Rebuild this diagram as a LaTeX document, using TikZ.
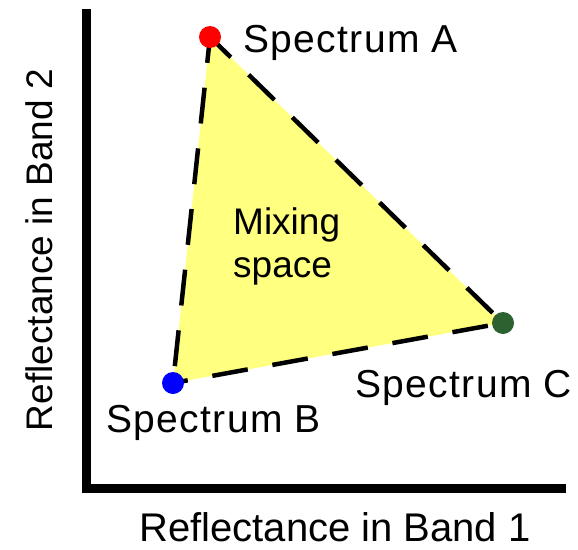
\documentclass[tikz,border=0pt]{standalone}
\usepackage{fontspec}
\setmainfont{Liberation Sans}
\newfontfamily\spacedfont[LetterSpace=3.5]{Liberation Sans}
\definecolor{fillyellow}{RGB}{255,255,128}
\definecolor{dotred}{RGB}{255,0,0}
\definecolor{dotblue}{RGB}{0,0,255}
\definecolor{dotgreen}{RGB}{45,98,48}
\begin{document}
\begin{tikzpicture}[x=1pt,y=-1pt,
  axisline/.style={line width=9pt, line join=miter, black},
  edgeline/.style={line width=4.5pt, dash pattern=on 36pt off 25pt, black},
  dotnode/.style={circle, inner sep=0pt, minimum size=22pt, draw=none},
  lbl/.style={inner sep=0pt, font=\spacedfont\fontsize{39}{44}\selectfont},
  axlbl/.style={inner sep=0pt, font=\fontsize{40}{46}\selectfont}]
\useasboundingbox (0,0) rectangle (578,549);
% axes
\coordinate (ytop) at (86,9);
\coordinate (origin) at (86,488.5);
\coordinate (xend) at (566,488.5);
\draw[axisline] (ytop) -- (origin) -- (xend);
% spectra
\node[dotnode] (A) at (210,37) {};
\node[dotnode] (B) at (173,383) {};
\node[dotnode] (C) at (503,323) {};
\fill[fillyellow] (A.center) -- (B.center) -- (C.center) -- cycle;
\draw[edgeline, dash phase=10pt] (A.center) -- (B.center);
\draw[edgeline, dash phase=21pt] (B.center) -- (C.center);
\draw[edgeline, dash phase=7pt] (A.center) -- (C.center);
\node[dotnode, fill=dotred] at (A) {};
\node[dotnode, fill=dotblue] at (B) {};
\node[dotnode, fill=dotgreen] at (C) {};
% labels
\node[lbl, anchor=base west] (la) at (243,52) {Spectrum A};
\node[lbl, anchor=base west] (lb) at (106,432) {Spectrum B};
\node[lbl, anchor=base west] (lc) at (355,397) {Spectrum C};
\node[inner sep=0pt, align=left, anchor=north west, font=\fontsize{37}{43}\selectfont] (mix) at (233,207) {Mixing\\space};
\node[axlbl, anchor=base] (xl) at (335,541) {Reflectance in Band 1};
\node[axlbl, anchor=base, rotate=90, font=\fontsize{37}{42}\selectfont] (yl) at (52,250) {Reflectance in Band 2};
\end{tikzpicture}
\end{document}
